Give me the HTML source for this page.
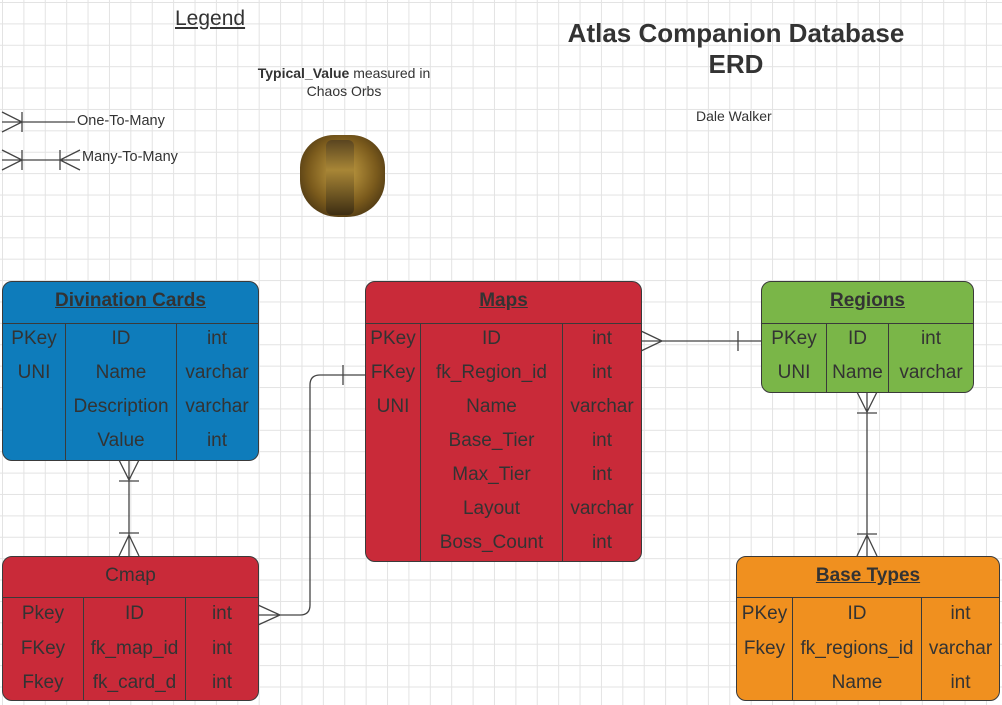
<!DOCTYPE html>
<html><head><meta charset="utf-8"><style>
body{margin:0;width:1002px;height:705px;overflow:hidden;position:relative;font-family:"Liberation Sans",sans-serif;color:#333;
background-color:#fff;
background-image:linear-gradient(#e3e3e3 1px,transparent 1px),linear-gradient(90deg,#e3e3e3 1px,transparent 1px);
background-size:21.4px 21.4px;background-position:2px 2px;}
.t{position:absolute;border:1.5px solid #3a3a3a;border-radius:10px;box-sizing:border-box;overflow:hidden}
.h{position:absolute;left:0;right:0;top:0;border-bottom:1.5px solid #3a3a3a;text-align:center;font-weight:bold;font-size:19px;text-decoration:underline;box-sizing:border-box}
.c{position:absolute;top:0;bottom:0;border-left:1.5px solid #3a3a3a}
.r{position:absolute;font-size:19px;text-align:center;transform:translateY(-50%);white-space:nowrap}
.l{position:absolute;white-space:nowrap}
</style></head><body>
<div class="l" style="left:175px;top:7px;font-size:21px;text-decoration:underline">Legend</div>
<div class="l" style="left:556px;top:18px;width:360px;text-align:center;font-size:26px;font-weight:bold;line-height:31px">Atlas Companion Database<br>ERD</div>
<div class="l" style="left:696px;top:108px;font-size:14px">Dale Walker</div>
<div class="l" style="left:244px;top:64px;width:200px;text-align:center;font-size:14px;line-height:18px"><b>Typical_Value</b> measured in<br>Chaos Orbs</div>
<div class="l" style="left:77px;top:113px;font-size:14.5px">One-To-Many</div>
<div class="l" style="left:82px;top:149px;font-size:14.5px">Many-To-Many</div>
<!-- chaos orb -->
<div style="position:absolute;left:300px;top:135px;width:85px;height:82px;border-radius:40% 40% 45% 45%;background:radial-gradient(circle at 50% 45%,#c9a447,#7a5a1c 55%,#3b2a10 90%)"></div>
<div style="position:absolute;left:326px;top:140px;width:28px;height:75px;background:linear-gradient(#5a4520,#a88636 40%,#3d2d12);border-radius:6px"></div>

<svg width="1002" height="705" style="position:absolute;left:0;top:0" fill="none" stroke="#444" stroke-width="1.3">
<path d="M2 122H75M2 112L22 122L2 132M22 112V132"/>
<path d="M2 160H80M2 150L22 160L2 170M22 150V170M60 150V170M80 150L60 160L80 170"/>
<path d="M641 341H761M641 331L662 341L641 351M738 331V351"/>
<path d="M129 460V556M119 460L129 480L139 460M119 481H139M119 533H139M119 556L129 535L139 556"/>
<path d="M258 615H300Q310 615 310 605V385Q310 375 320 375H365M258 605L280 615L258 625M343 365V385"/>
<path d="M867 392V556M857 392L867 412L877 392M857 413H877M857 534H877M857 556L867 535L877 556"/>
</svg>

<div class="t" style="left:2px;top:281px;width:257px;height:180px;background:#0e7cbb">
<div class="h" style="height:42px;line-height:38px">Divination Cards</div>
<div class="c" style="left:62px;top:42px"></div><div class="c" style="left:173px;top:42px"></div>
<div class="r" style="left:0;width:62px;top:57px">PKey</div><div class="r" style="left:0;width:62px;top:91px">UNI</div>
<div class="r" style="left:63px;width:110px;top:57px">ID</div><div class="r" style="left:63px;width:110px;top:91px">Name</div><div class="r" style="left:63px;width:110px;top:125px">Description</div><div class="r" style="left:63px;width:110px;top:159px">Value</div>
<div class="r" style="left:174px;width:80px;top:57px">int</div><div class="r" style="left:174px;width:80px;top:91px">varchar</div><div class="r" style="left:174px;width:80px;top:125px">varchar</div><div class="r" style="left:174px;width:80px;top:159px">int</div>
</div>
<div class="t" style="left:365px;top:281px;width:277px;height:281px;background:#c92a39">
<div class="h" style="height:42px;line-height:38px">Maps</div>
<div class="c" style="left:54px;top:42px"></div><div class="c" style="left:196px;top:42px"></div>
<div class="r" style="left:0;width:54px;top:57px">PKey</div><div class="r" style="left:0;width:54px;top:91px">FKey</div><div class="r" style="left:0;width:54px;top:125px">UNI</div>
<div class="r" style="left:55px;width:141px;top:57px">ID</div><div class="r" style="left:55px;width:141px;top:91px">fk_Region_id</div><div class="r" style="left:55px;width:141px;top:125px">Name</div><div class="r" style="left:55px;width:141px;top:159px">Base_Tier</div><div class="r" style="left:55px;width:141px;top:193px">Max_Tier</div><div class="r" style="left:55px;width:141px;top:227px">Layout</div><div class="r" style="left:55px;width:141px;top:261px">Boss_Count</div>
<div class="r" style="left:197px;width:78px;top:57px">int</div><div class="r" style="left:197px;width:78px;top:91px">int</div><div class="r" style="left:197px;width:78px;top:125px">varchar</div><div class="r" style="left:197px;width:78px;top:159px">int</div><div class="r" style="left:197px;width:78px;top:193px">int</div><div class="r" style="left:197px;width:78px;top:227px">varchar</div><div class="r" style="left:197px;width:78px;top:261px">int</div>
</div>
<div class="t" style="left:761px;top:281px;width:213px;height:112px;background:#7ab648">
<div class="h" style="height:42px;line-height:38px">Regions</div>
<div class="c" style="left:64px;top:42px"></div><div class="c" style="left:126px;top:42px"></div>
<div class="r" style="left:0;width:64px;top:57px">PKey</div><div class="r" style="left:0;width:64px;top:91px">UNI</div>
<div class="r" style="left:65px;width:61px;top:57px">ID</div><div class="r" style="left:65px;width:61px;top:91px">Name</div>
<div class="r" style="left:127px;width:84px;top:57px">int</div><div class="r" style="left:127px;width:84px;top:91px">varchar</div>
</div>
<div class="t" style="left:2px;top:556px;width:257px;height:145px;background:#c92a39">
<div class="h" style="height:41px;line-height:38px;font-weight:normal;text-decoration:none">Cmap</div>
<div class="c" style="left:80px;top:41px"></div><div class="c" style="left:182px;top:41px"></div>
<div class="r" style="left:0;width:80px;top:57px">Pkey</div><div class="r" style="left:0;width:80px;top:92px">FKey</div><div class="r" style="left:0;width:80px;top:126px">Fkey</div>
<div class="r" style="left:81px;width:101px;top:57px">ID</div><div class="r" style="left:81px;width:101px;top:92px">fk_map_id</div><div class="r" style="left:81px;width:101px;top:126px">fk_card_d</div>
<div class="r" style="left:183px;width:72px;top:57px">int</div><div class="r" style="left:183px;width:72px;top:92px">int</div><div class="r" style="left:183px;width:72px;top:126px">int</div>
</div>
<div class="t" style="left:736px;top:556px;width:264px;height:145px;background:#f0901f">
<div class="h" style="height:41px;line-height:38px">Base Types</div>
<div class="c" style="left:55px;top:41px"></div><div class="c" style="left:184px;top:41px"></div>
<div class="r" style="left:0;width:55px;top:57px">PKey</div><div class="r" style="left:0;width:55px;top:92px">Fkey</div>
<div class="r" style="left:56px;width:128px;top:57px">ID</div><div class="r" style="left:56px;width:128px;top:92px">fk_regions_id</div><div class="r" style="left:56px;width:128px;top:126px">Name</div>
<div class="r" style="left:185px;width:77px;top:57px">int</div><div class="r" style="left:185px;width:77px;top:92px">varchar</div><div class="r" style="left:185px;width:77px;top:126px">int</div>
</div>
</body></html>
